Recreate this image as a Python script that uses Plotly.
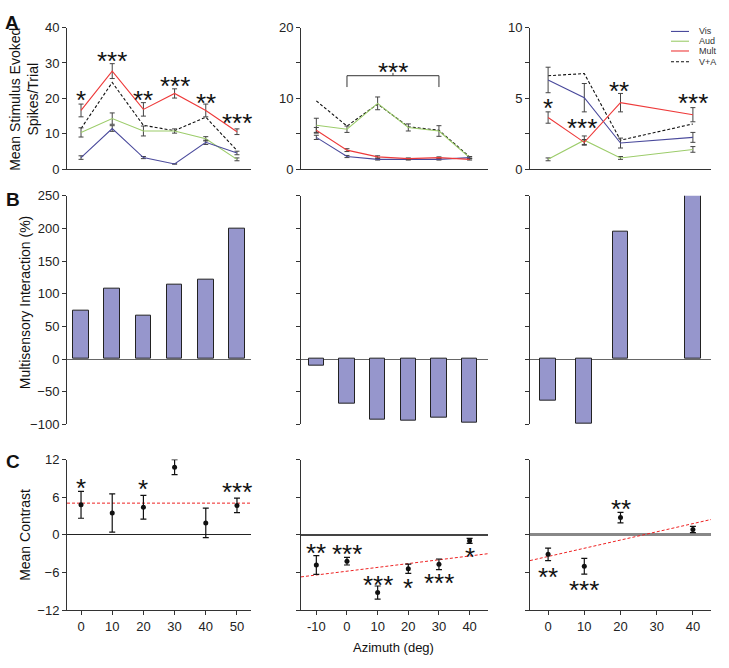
import plotly.graph_objects as go
from plotly.subplots import make_subplots

# ---------------- data ----------------
az1 = [0, 10, 20, 30, 40, 50]
az2 = [-10, 0, 10, 20, 30, 40]
az3 = [0, 10, 20, 40]

vis1 = [3.3, 11.5, 3.3, 1.5, 7.6, 4.6]
vis1_err = [0.5, 0.8, 0.3, 0.0, 0.6, 0.5]
aud1 = [10.4, 14.3, 10.8, 10.8, 8.6, 2.8]
aud1_err = [1.3, 1.6, 1.4, 0.6, 0.6, 0.4]
mult1 = [16.6, 27.7, 16.9, 21.4, 16.6, 10.6]
mult1_err = [1.8, 2.1, 1.9, 1.3, 1.8, 0.8]
va1 = [11.5, 24.5, 12.4, 10.9, 14.7, 5.3]

vis2 = [4.5, 1.8, 1.4, 1.4, 1.4, 1.65]
vis2_err = [0.3, 0.15, 0.1, 0.1, 0.1, 0.1]
aud2 = [6.2, 5.65, 9.3, 5.9, 5.4, 1.65]
aud2_err = [1.0, 0.45, 0.9, 0.5, 0.75, 0.15]
mult2 = [5.5, 2.7, 1.75, 1.5, 1.65, 1.4]
mult2_err = [0.4, 0.2, 0.15, 0.1, 0.1, 0.1]
va2 = [9.65, 6.1, 9.2, 6.0, 5.5, 1.75]

vis3 = [6.3, 5.05, 1.85, 2.25]
vis3_err = [0.9, 1.0, 0.35, 0.35]
aud3 = [0.7, 2.05, 0.8, 1.4]
aud3_err = [0.1, 0.3, 0.1, 0.2]
mult3 = [3.65, 1.9, 4.7, 3.85]
mult3_err = [0.4, 0.2, 0.65, 0.5]
va3 = [6.6, 6.75, 2.05, 3.2]

msi1 = [74, 108, 66, 114, 121, 199]
msi2 = [-10.5, -68, -93, -94, -90, -98]
msi3 = [-63, -99, 195, 252]

mc1 = [4.8, 3.5, 4.4, 10.8, 1.9, 4.7]
mc1_err = [2.15, 3.05, 1.9, 1.2, 2.35, 1.15]
mc2 = [-4.8, -4.2, -9.2, -5.4, -4.7, -0.95]
mc2_err = [1.5, 0.6, 1.05, 0.75, 0.85, 0.4]
mc3 = [-3.1, -5.0, 2.75, 0.85]
mc3_err = [1.0, 1.25, 0.85, 0.5]

fit1_x, fit1_y = [-4.5, 54.5], [5.06, 5.06]
fit2_x, fit2_y = [-15, 46], [-6.7, -3.0]
fit3_x, fit3_y = [-5, 45], [-4.1, 2.45]

starsA1 = ([0, 10, 20, 30, 40, 50], [21, 32, 21, 25, 20, 14.5], ["*", "***", "**", "***", "**", "***"])
starsA2 = ([15], [14.4], ["***"])
bracketA2 = ([0, 0, 30, 30], [11.6, 13.2, 13.2, 11.6])
starsA3 = ([0, 9.5, 19.6, 40], [4.7, 3.25, 5.9, 5.0], ["*", "***", "**", "***"])
starsC1 = ([0, 20, 30, 50], [8.3, 8.1, 13.5, 7.6], ["*", "*", "***", "***"])
starsC2 = ([-10, 0, 10, 20, 30, 40], [-2.1, -2.3, -7.15, -7.7, -6.9, -2.7], ["**", "***", "***", "*", "***", "*"])
starsC3 = ([0, 10, 20], [-5.95, -8.0, 4.9], ["**", "***", "**"])

legend_names = ["Vis", "Aud", "Mult", "V+A"]

# ---------------- styles ----------------
C_VIS = "#4a4a9c"
C_AUD = "#9ccc6a"
C_MULT = "#ee3a3a"
C_VA = "#111111"
C_BAR = "#9696cc"
FONT = "Liberation Sans, Arial, sans-serif"
W, H = 729, 668
DASH = "3px,2px"

def px_x(p):
    return p / W

def px_y(p):
    return 1 - p / H

fig = make_subplots(rows=3, cols=3)

xdom = [[px_x(67), px_x(251)], [px_x(301), px_x(488)], [px_x(530), px_x(711)]]
ydom = [[px_y(166), px_y(21)], [px_y(427), px_y(193)], [px_y(617), px_y(463)]]
xranges = [[-4.5, 54.5], [-15, 46], [-5, 45]]

def ax(r, c):
    n = (r - 1) * 3 + c
    return ("x" if n == 1 else f"x{n}"), ("y" if n == 1 else f"y{n}"), n

err_col = "#444444"

def line_trace(x, y, color, err=None, dash=None, r=1, c=1):
    t = go.Scatter(x=x, y=y, mode="lines",
                   line=dict(color=color, width=1.1, dash=dash),
                   showlegend=False, hoverinfo="skip")
    if err is not None:
        t.error_y = dict(type="data", array=err, visible=True, color=err_col,
                         thickness=1, width=2.5)
    fig.add_trace(t, row=r, col=c)

rowA = [(az1, vis1, vis1_err, aud1, aud1_err, mult1, mult1_err, va1),
        (az2, vis2, vis2_err, aud2, aud2_err, mult2, mult2_err, va2),
        (az3, vis3, vis3_err, aud3, aud3_err, mult3, mult3_err, va3)]
for c, (x, v, ve, a, ae, m, me, va) in enumerate(rowA, start=1):
    line_trace(x, va, C_VA, None, DASH, 1, c)
    line_trace(x, a, C_AUD, ae, None, 1, c)
    line_trace(x, v, C_VIS, ve, None, 1, c)
    line_trace(x, m, C_MULT, me, None, 1, c)

# bars
bar_width = [5, 5, 4.4]
for c, (x, yv) in enumerate([(az1, msi1), (az2, msi2), (az3, msi3)], start=1):
    fig.add_trace(go.Bar(x=x, y=yv, width=bar_width[c - 1], marker=dict(color=C_BAR, line=dict(color="#222222", width=1)),
                         showlegend=False, hoverinfo="skip"), row=2, col=c)

# contrast
for c, (x, yv, e, fx, fy) in enumerate([(az1, mc1, mc1_err, fit1_x, fit1_y),
                                         (az2, mc2, mc2_err, fit2_x, fit2_y),
                                         (az3, mc3, mc3_err, fit3_x, fit3_y)], start=1):
    fig.add_trace(go.Scatter(x=fx, y=fy, mode="lines", line=dict(color="#ee2222", width=1, dash=DASH),
                             showlegend=False, hoverinfo="skip"), row=3, col=c)
    fig.add_trace(go.Scatter(x=x, y=yv, mode="markers", marker=dict(color="#111111", size=5),
                             error_y=dict(type="data", array=e, visible=True, color="#111111", thickness=1.2, width=3),
                             showlegend=False, hoverinfo="skip"), row=3, col=c)

# ---------------- axes ----------------
axis_col = "#333333"
tickfont = dict(family=FONT, size=13, color="#222222")
yA = [dict(range=[0, 40], tickvals=[0, 10, 20, 30, 40], ticktext=["0", "10", "20", "30", "40"]),
      dict(range=[0, 20], tickvals=[0, 5, 10, 15, 20], ticktext=["0", "", "10", "", "20"]),
      dict(range=[0, 10], tickvals=[0, 2.5, 5, 7.5, 10], ticktext=["0", "", "5", "", "10"])]
for r in range(1, 4):
    for c in range(1, 4):
        xa, ya, n = ax(r, c)
        xk = "xaxis" if n == 1 else f"xaxis{n}"
        yk = "yaxis" if n == 1 else f"yaxis{n}"
        xd = dict(domain=xdom[c - 1], range=xranges[c - 1], showgrid=False, zeroline=False,
                  linecolor=axis_col, linewidth=1, tickfont=tickfont, fixedrange=True)
        yd = dict(domain=ydom[r - 1], showgrid=False, linecolor=axis_col, linewidth=1, showline=True,
                  ticks="outside", ticklen=4, tickcolor=axis_col, tickfont=tickfont, fixedrange=True)
        if r == 1:
            xd.update(showline=True, ticks="", showticklabels=False)
            yd.update(zeroline=False, tickmode="array", **yA[c - 1])
        elif r == 2:
            xd.update(showline=False, ticks="", showticklabels=False)
            yd.update(range=[-100, 250], tickvals=[-100, -50, 0, 50, 100, 150, 200, 250],
                      zeroline=True, zerolinecolor="#666666", zerolinewidth=1.2,
                      showticklabels=(c == 1))
        else:
            xt = {1: az1, 2: az2, 3: [0, 10, 20, 30, 40]}[c]
            xd.update(showline=True, ticks="outside", ticklen=4, tickcolor=axis_col,
                      tickvals=xt, ticktext=[str(v) for v in xt])
            zc = {1: "#222222", 2: "#444444", 3: "#888888"}[c]
            zw = {1: 1, 2: 1.5, 3: 2.5}[c]
            yd.update(range=[-12, 12], tickvals=[-12, -6, 0, 6, 12], ticktext=["\u221212", "\u22126", "0", "6", "12"],
                      zeroline=True, zerolinecolor=zc, zerolinewidth=zw, showticklabels=(c == 1))
        fig.layout[xk].update(xd)
        fig.layout[yk].update(yd)

# ---------------- annotations ----------------
ann = []
def stars(spec, xr, yr):
    for x, y, t in zip(*spec):
        ann.append(dict(x=x, y=y, xref=xr, yref=yr, text=t, showarrow=False,
                        font=dict(family=FONT, size=26, color="#111111"), yanchor="middle", yshift=-5))

stars(starsA1, "x", "y")
stars(starsA2, "x2", "y2")
stars(starsA3, "x3", "y3")
stars(starsC1, "x7", "y7")
stars(starsC2, "x8", "y8")
stars(starsC3, "x9", "y9")

shapes = []
bx, by = bracketA2
shapes.append(dict(type="path", xref="x2", yref="y2",
                   path=f"M {bx[0]},{by[0]} L {bx[1]},{by[1]} L {bx[2]},{by[2]} L {bx[3]},{by[3]}",
                   line=dict(color="#333333", width=1)))
shapes.append(dict(type="line", xref="x2", yref="y2", x0=15, x1=15, y0=13.2, y1=13.6,
                   line=dict(color="#333333", width=1)))

# legend (manual)
leg_cols = [C_VIS, C_AUD, C_MULT, C_VA]
leg_y = [25, 35, 45, 56]
for name, col, yy in zip(legend_names, leg_cols, leg_y):
    shapes.append(dict(type="line", xref="paper", yref="paper", x0=px_x(671), x1=px_x(689),
                       y0=px_y(yy), y1=px_y(yy),
                       line=dict(color=col, width=1.1, dash=DASH if name == "V+A" else "solid")))
    ann.append(dict(x=px_x(697), y=px_y(yy), xref="paper", yref="paper", text=name, showarrow=False,
                    xanchor="left", yanchor="middle", font=dict(family=FONT, size=9, color="#333333")))

def label(text, x, y, size=13, angle=0, bold=False, xanchor="center"):
    ann.append(dict(x=px_x(x), y=px_y(y), xref="paper", yref="paper",
                    text=f"<b>{text}</b>" if bold else text, showarrow=False, textangle=angle,
                    xanchor=xanchor, yanchor="middle", font=dict(family=FONT, size=size, color="#111111")))

label("A", 12, 16, size=19, bold=True)
label("B", 13, 197, size=19, bold=True)
label("C", 13, 465, size=19, bold=True)
label("Mean Stimulus Evoked<br>Spikes/Trial", 24, 95, size=14, angle=-90)
label("Multisensory Interaction (%)", 25, 302, size=14, angle=-90)
label("Mean Contrast", 25, 540, size=14, angle=-90)
label("Azimuth (deg)", 394, 655, size=13)

fig.update_layout(width=W, height=H, margin=dict(l=0, r=0, t=0, b=0),
                  plot_bgcolor="white", paper_bgcolor="white",
                  annotations=ann, shapes=shapes, showlegend=False, bargap=0)

fig.write_html("out.html", config={"displayModeBar": False},
               post_script="document.body.style.margin='0';document.body.style.overflow='hidden';"
                           "document.documentElement.style.overflow='hidden';")
